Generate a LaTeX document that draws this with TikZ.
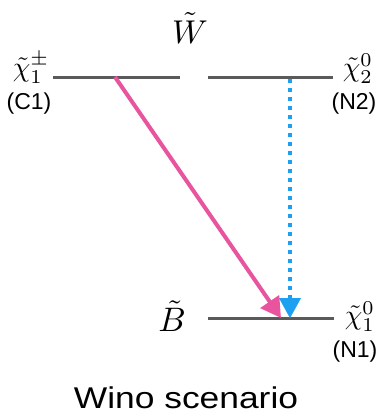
\documentclass[tikz,border=0pt]{standalone}
\usepackage{fontspec}
\newfontfamily\arialf{Liberation Sans}
\usetikzlibrary{arrows.meta,calc}
\definecolor{lvl}{HTML}{5A5A5A}
\definecolor{pinkc}{HTML}{E8559E}
\definecolor{bluec}{HTML}{1EA0F0}
\newcommand{\scaledmath}[2]{\scalebox{#1}{$#2$}}
\begin{document}
\begin{tikzpicture}[x=1pt,y=-1pt,
  level/.style={draw=lvl,line width=3pt},
  mlab/.style={inner sep=0pt},
  plab/.style={inner sep=0pt,font=\arialf\fontsize{23}{25}\selectfont},
  tip/.style={-{Triangle[length=20pt,width=22pt]}}]
\useasboundingbox (0,0) rectangle (382,418);
% levels
\coordinate (c1l) at (53,77); \coordinate (c1r) at (180,77);
\coordinate (n2l) at (208,77); \coordinate (n2r) at (333,77);
\coordinate (n1l) at (208,318); \coordinate (n1r) at (334,318);
\draw[level] (c1l) -- (c1r);
\draw[level] (n2l) -- (n2r);
\draw[level] (n1l) -- (n1r);
% labels
\node[mlab] (wt) at (190,28) {\scaledmath{3.3}{\tilde W}};
\node[mlab] (c1) at (31,68) {\scaledmath{2.8}{\tilde\chi_1^\pm}};
\node[mlab] (n2) at (358,69) {\scaledmath{2.8}{\tilde\chi_2^0}};
\node[mlab] (bt) at (172,316) {\scaledmath{3.4}{\tilde B}};
\node[mlab] (n1) at (360,317) {\scaledmath{2.8}{\tilde\chi_1^0}};
\node[plab] (c1t) at (29,104) {(C1)};
\node[plab] (n2t) at (354,104) {(N2)};
\node[plab] (n1t) at (355,352) {(N1)};
\node[inner sep=0pt,font=\arialf\fontsize{30}{32}\selectfont] (title) at (186,398) {\scalebox{1.18}[1]{Wino scenario}};
% decays
\coordinate (ps) at (115,77); \coordinate (pe) at (281,318);
\coordinate (bs) at (290,79); \coordinate (be) at (290,318);
\coordinate (bm) at ($(be)+(0,-20)$);
\draw[pinkc,line width=4pt,tip] (ps) -- (pe);
\draw[bluec,line width=4pt,dash pattern=on 4pt off 5pt] (bs) -- (bm);
\draw[bluec,tip,line width=0.1pt] (bm) -- (be);
\end{tikzpicture}
\end{document}
